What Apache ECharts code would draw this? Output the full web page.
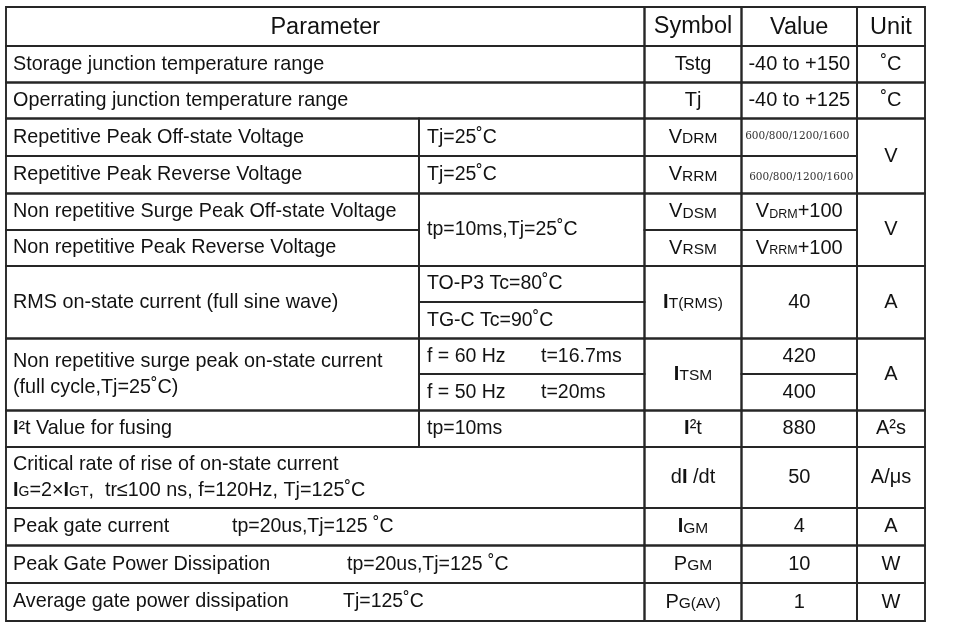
<!DOCTYPE html>
<html>
<head>
<meta charset="utf-8">
<script src="https://cdn.jsdelivr.net/npm/echarts@6/dist/echarts.min.js"></script>
<style>
html,body{margin:0;padding:0;background:#ffffff;}
#chart{width:960px;height:625px;}
</style>
</head>
<body>
<div id="chart"></div>
<script>
// ---------------- DATA (text content of the table) ----------------
const headers = ['Parameter', 'Symbol', 'Value', 'Unit'];

const parameters = [
  'Storage junction temperature range',
  'Operrating junction temperature range',
  'Repetitive Peak Off-state Voltage',
  'Repetitive Peak Reverse Voltage',
  'Non repetitive Surge Peak Off-state Voltage',
  'Non repetitive Peak Reverse Voltage',
  'RMS on-state current (full sine wave)',
  'Non repetitive surge peak on-state current\n(full cycle,Tj=25˚C)',
  '{b|I}²t Value for fusing',
  'Critical rate of rise of on-state current\n{b|I}{s|G}=2×{b|I}{s|GT},  tr≤100 ns, f=120Hz, Tj=125˚C',
  'Peak gate current',
  'Peak Gate Power Dissipation',
  'Average gate power dissipation'
];

const conditions = [
  'Tj=25˚C',
  'Tj=25˚C',
  'tp=10ms,Tj=25˚C',
  'TO-P3 Tc=80˚C',
  'TG-C Tc=90˚C',
  'f = 60 Hz',
  't=16.7ms',
  'f = 50 Hz',
  't=20ms',
  'tp=10ms',
  'tp=20us,Tj=125 ˚C',
  'tp=20us,Tj=125 ˚C',
  'Tj=125˚C'
];

const symbols = [
  'Tstg', 'Tj', 'V{s|DRM}', 'V{s|RRM}', 'V{s|DSM}', 'V{s|RSM}',
  '{b|I}{s|T(RMS)}', '{b|I}{s|TSM}', '{b|I}²t', 'd{b|I} /dt',
  '{b|I}{s|GM}', 'P{s|GM}', 'P{s|G(AV)}'
];

const values = [
  '-40 to +150', '-40 to +125',
  '{serif|600/800/1200/1600}', '{serif|600/800/1200/1600}',
  'V{s|DRM}+100', 'V{s|RRM}+100',
  '40', '420', '400', '880', '50', '4', '10', '1'
];

const units = ['˚C', '˚C', 'V', 'V', 'A', 'A', 'A²s', 'A/μs', 'A', 'W', 'W'];

// ---------------- LAYOUT (positions, spans, styles) ----------------
const colEdges = [0, 413, 638.5, 735.5, 851, 919];
const rowEdges = [0, 39, 75.5, 111.5, 149, 186.5, 223, 259, 295, 331.5, 367, 403.5, 440, 501, 538.5, 576, 614];

const SOURCES = { h: headers, p: parameters, c: conditions, s: symbols, v: values, u: units };
const FONT = '"Liberation Sans", Arial, Helvetica, sans-serif';
const SERIF = '"DejaVu Serif", "Liberation Serif", serif';
const KIND_STYLE = {
  h: { size: 23.5, sub: 15 },
  p: { size: 19.8, sub: 14 },
  c: { size: 19.5, sub: 14 },
  s: { size: 20, sub: 15.5 },
  v: { size: 20, sub: 12.5 },
  u: { size: 20, sub: 14 }
};

const CELLS = [
  { k: 'h', i: 0, c: [0, 2], r: [0, 1], dy: 1.5 },
  { k: 'h', i: 1, c: [2, 3], r: [0, 1], dy: 0 },
  { k: 'h', i: 2, c: [3, 4], r: [0, 1], dy: 1.5 },
  { k: 'h', i: 3, c: [4, 5], r: [0, 1], dy: 1.5 },

  { k: 'p', i: 0, c: [0, 2], r: [1, 2], left: 7 },
  { k: 'p', i: 1, c: [0, 2], r: [2, 3], left: 7 },
  { k: 'p', i: 2, c: [0, 1], r: [3, 4], left: 7 },
  { k: 'p', i: 3, c: [0, 1], r: [4, 5], left: 7 },
  { k: 'p', i: 4, c: [0, 1], r: [5, 6], left: 7 },
  { k: 'p', i: 5, c: [0, 1], r: [6, 7], left: 7 },
  { k: 'p', i: 6, c: [0, 1], r: [7, 9], left: 7 },
  { k: 'p', i: 7, c: [0, 1], r: [9, 11], left: 7, lh: 26 },
  { k: 'p', i: 8, c: [0, 1], r: [11, 12], left: 7 },
  { k: 'p', i: 9, c: [0, 2], r: [12, 13], left: 7, lh: 26 },
  { k: 'p', i: 10, c: [0, 2], r: [13, 14], left: 7 },
  { k: 'p', i: 11, c: [0, 2], r: [14, 15], left: 7 },
  { k: 'p', i: 12, c: [0, 2], r: [15, 16], left: 7 },

  { k: 'c', i: 0, c: [1, 2], r: [3, 4], left: 8 },
  { k: 'c', i: 1, c: [1, 2], r: [4, 5], left: 8 },
  { k: 'c', i: 2, c: [1, 2], r: [5, 7], left: 8 },
  { k: 'c', i: 3, c: [1, 2], r: [7, 8], left: 8 },
  { k: 'c', i: 4, c: [1, 2], r: [8, 9], left: 8 },
  { k: 'c', i: 5, c: [1, 2], r: [9, 10], left: 8 },
  { k: 'c', i: 6, c: [1, 2], r: [9, 10], left: 122, noBorder: true },
  { k: 'c', i: 7, c: [1, 2], r: [10, 11], left: 8 },
  { k: 'c', i: 8, c: [1, 2], r: [10, 11], left: 122, noBorder: true },
  { k: 'c', i: 9, c: [1, 2], r: [11, 12], left: 8 },
  { k: 'c', i: 10, c: [0, 2], r: [13, 14], left: 226, noBorder: true },
  { k: 'c', i: 11, c: [0, 2], r: [14, 15], left: 341, noBorder: true },
  { k: 'c', i: 12, c: [0, 2], r: [15, 16], left: 337, noBorder: true },

  { k: 's', i: 0, c: [2, 3], r: [1, 2] },
  { k: 's', i: 1, c: [2, 3], r: [2, 3] },
  { k: 's', i: 2, c: [2, 3], r: [3, 4] },
  { k: 's', i: 3, c: [2, 3], r: [4, 5] },
  { k: 's', i: 4, c: [2, 3], r: [5, 6] },
  { k: 's', i: 5, c: [2, 3], r: [6, 7] },
  { k: 's', i: 6, c: [2, 3], r: [7, 9] },
  { k: 's', i: 7, c: [2, 3], r: [9, 11] },
  { k: 's', i: 8, c: [2, 3], r: [11, 12] },
  { k: 's', i: 9, c: [2, 3], r: [12, 13] },
  { k: 's', i: 10, c: [2, 3], r: [13, 14] },
  { k: 's', i: 11, c: [2, 3], r: [14, 15] },
  { k: 's', i: 12, c: [2, 3], r: [15, 16] },

  { k: 'v', i: 0, c: [3, 4], r: [1, 2] },
  { k: 'v', i: 1, c: [3, 4], r: [2, 3] },
  { k: 'v', i: 2, c: [3, 4], r: [3, 4], dx: -2, dy: -1 },
  { k: 'v', i: 3, c: [3, 4], r: [4, 5], dx: 2, dy: 3 },
  { k: 'v', i: 4, c: [3, 4], r: [5, 6] },
  { k: 'v', i: 5, c: [3, 4], r: [6, 7] },
  { k: 'v', i: 6, c: [3, 4], r: [7, 9] },
  { k: 'v', i: 7, c: [3, 4], r: [9, 10] },
  { k: 'v', i: 8, c: [3, 4], r: [10, 11] },
  { k: 'v', i: 9, c: [3, 4], r: [11, 12] },
  { k: 'v', i: 10, c: [3, 4], r: [12, 13] },
  { k: 'v', i: 11, c: [3, 4], r: [13, 14] },
  { k: 'v', i: 12, c: [3, 4], r: [14, 15] },
  { k: 'v', i: 13, c: [3, 4], r: [15, 16] },

  { k: 'u', i: 0, c: [4, 5], r: [1, 2] },
  { k: 'u', i: 1, c: [4, 5], r: [2, 3] },
  { k: 'u', i: 2, c: [4, 5], r: [3, 5] },
  { k: 'u', i: 3, c: [4, 5], r: [5, 7] },
  { k: 'u', i: 4, c: [4, 5], r: [7, 9] },
  { k: 'u', i: 5, c: [4, 5], r: [9, 11] },
  { k: 'u', i: 6, c: [4, 5], r: [11, 12] },
  { k: 'u', i: 7, c: [4, 5], r: [12, 13] },
  { k: 'u', i: 8, c: [4, 5], r: [13, 14] },
  { k: 'u', i: 9, c: [4, 5], r: [14, 15] },
  { k: 'u', i: 10, c: [4, 5], r: [15, 16] }
];

const LINE_COLOR = '#262626';
const TEXT_COLOR = '#121212';

// data items for the custom series, built from the layout + axis scales
const cellData = CELLS.map(function (cell, idx) {
  return [colEdges[cell.c[0]], rowEdges[cell.r[0]], colEdges[cell.c[1]], rowEdges[cell.r[1]], idx];
});

function makeRich(size, sub, lh) {
  const c = 0.33;
  // token height used for 'bottom' alignment so that the small text shares the baseline
  const subH = Math.max(1, lh - 2 * c * (size - sub));
  return {
    b: { fontSize: size, fontFamily: FONT, fontWeight: 'bold', fill: TEXT_COLOR, lineHeight: lh },
    s: { fontSize: sub, fontFamily: FONT, fontWeight: 'normal', fill: TEXT_COLOR, height: subH, lineHeight: lh, verticalAlign: 'bottom' },
    serif: { fontSize: 10.5, fontFamily: SERIF, fontWeight: 'normal', fill: '#333333', lineHeight: lh }
  };
}

function renderItem(params, api) {
  const cell = CELLS[api.value(4)];
  const p0 = api.coord([api.value(0), api.value(1)]);
  const p1 = api.coord([api.value(2), api.value(3)]);
  const x0 = Math.min(p0[0], p1[0]), x1 = Math.max(p0[0], p1[0]);
  const y0 = Math.min(p0[1], p1[1]), y1 = Math.max(p0[1], p1[1]);
  const ks = KIND_STYLE[cell.k];
  const lh = cell.lh || Math.round(ks.size * 1.2);
  const text = SOURCES[cell.k][cell.i];
  const isLeft = cell.left !== undefined;
  const tx = (isLeft ? x0 + cell.left : (x0 + x1) / 2) + (cell.dx || 0);
  const ty = (y0 + y1) / 2 + (cell.dy || 0);
  const children = [];
  if (!cell.noBorder) {
    children.push({
      type: 'rect',
      shape: { x: x0, y: y0, width: x1 - x0, height: y1 - y0 },
      style: { fill: 'none', stroke: LINE_COLOR, lineWidth: 1.9 }
    });
  }
  children.push({
    type: 'text',
    x: tx,
    y: ty,
    style: {
      text: text,
      fontSize: ks.size,
      fontFamily: FONT,
      fill: TEXT_COLOR,
      lineHeight: lh,
      align: isLeft ? 'left' : 'center',
      verticalAlign: 'middle',
      rich: makeRich(ks.size, ks.sub, lh)
    }
  });
  return { type: 'group', children: children };
}

const chart = echarts.init(document.getElementById('chart'), null, { renderer: 'canvas' });
chart.setOption({
  backgroundColor: '#ffffff',
  animation: false,
  grid: { left: 6, top: 7, width: 919, height: 614, containLabel: false, show: false },
  xAxis: { type: 'value', min: 0, max: 919, show: false },
  yAxis: { type: 'value', min: 0, max: 614, inverse: true, show: false },
  series: [{
    type: 'custom',
    renderItem: renderItem,
    encode: { x: [0, 2], y: [1, 3] },
    data: cellData,
    silent: true,
    clip: false
  }]
});
</script>
</body>
</html>
